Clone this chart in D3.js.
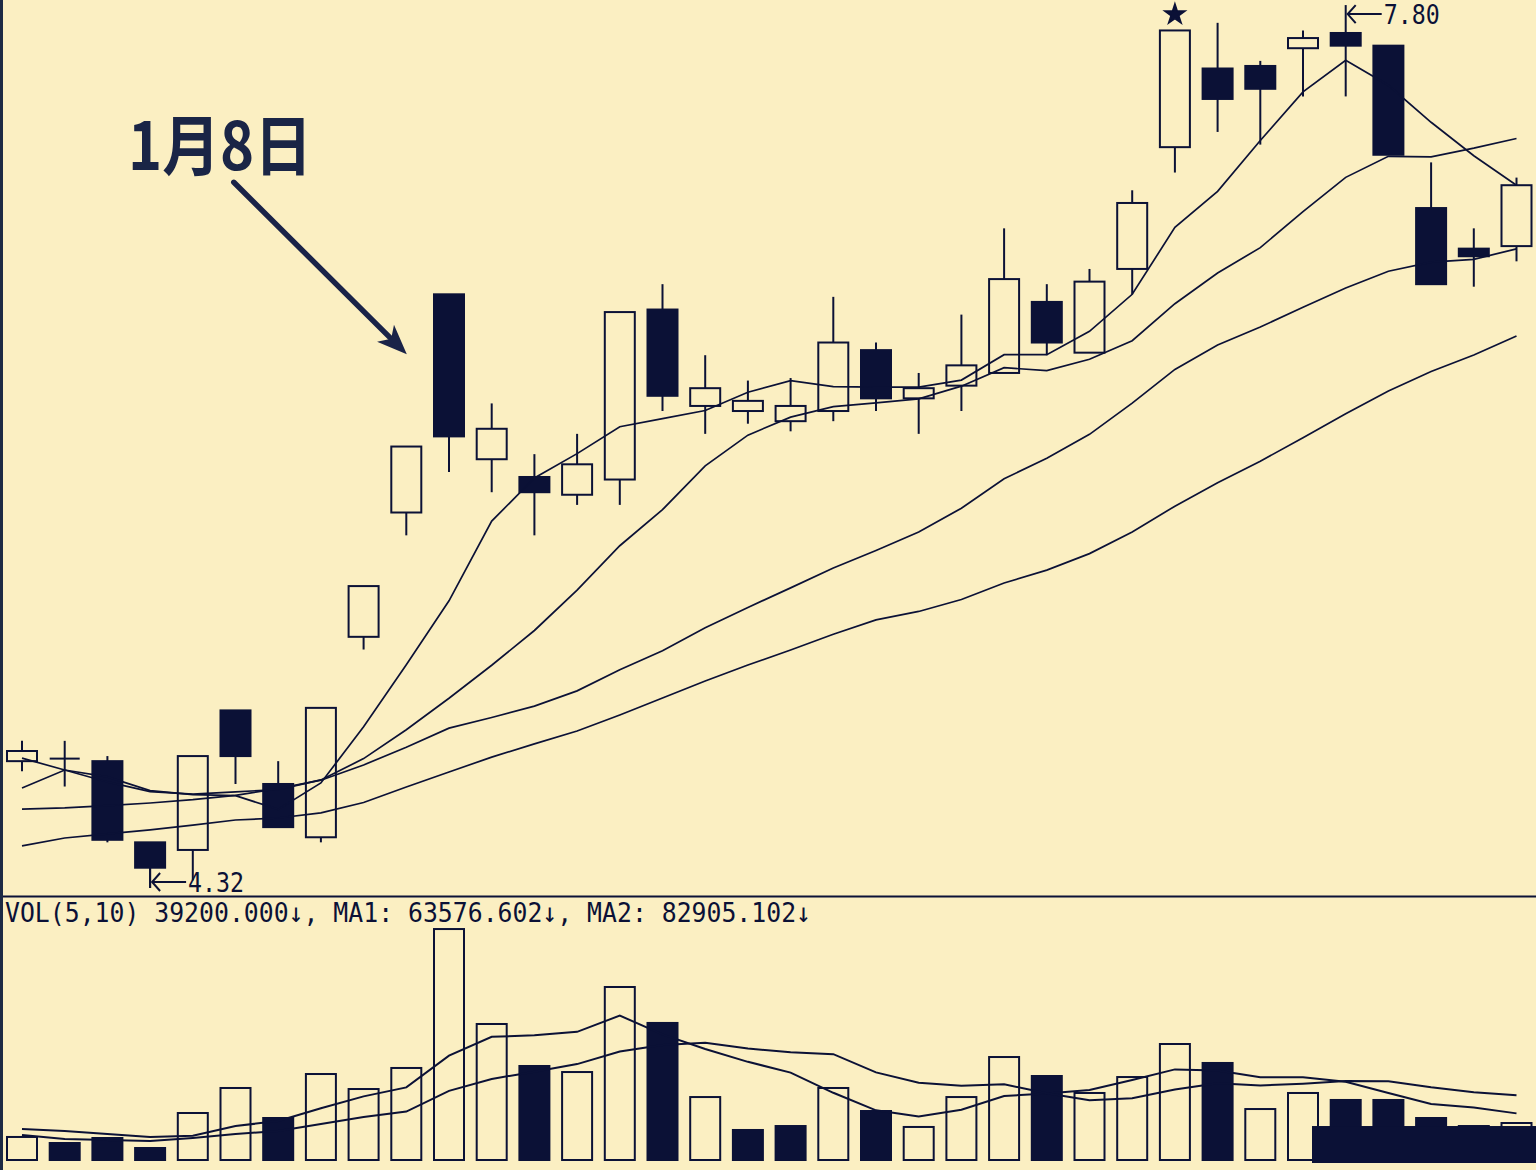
<!DOCTYPE html>
<html><head><meta charset="utf-8">
<script src="https://cdn.jsdelivr.net/npm/d3@7"></script>
<style>html,body{margin:0;padding:0;background:#fbefc2;} svg{display:block}</style>
</head><body>
<svg id="chart" width="1536" height="1170"></svg>
<script>
// ---- data ----
const days  = [1,2,3,4,5,6,7,8,9,10,11,12,13,14,15,16,17,18,19,20,21,22,23,24,25,26,27,28,29,30,31,32,33,34,35,36];
const open  = [4.82,4.83,4.82,4.50,4.47,5.02,4.73,4.52,5.31,5.80,6.66,6.01,5.94,5.87,5.93,6.60,6.22,6.20,6.16,6.20,6.44,6.25,6.30,6.35,6.63,6.43,6.76,7.24,7.55,7.56,7.63,7.69,7.64,7.00,6.84,6.85];
const high  = [4.90,4.90,4.84,4.50,4.84,5.02,4.82,5.03,5.51,6.06,6.66,6.23,6.03,6.11,6.59,6.70,6.42,6.32,6.33,6.65,6.47,6.35,6.58,6.92,6.70,6.76,7.07,7.70,7.73,7.58,7.70,7.80,7.64,7.18,6.92,7.12];
const low   = [4.78,4.72,4.50,4.32,4.35,4.73,4.56,4.50,5.26,5.71,5.96,5.88,5.71,5.83,5.83,6.20,6.11,6.15,6.12,6.16,6.20,6.11,6.20,6.35,6.42,6.43,6.66,7.14,7.30,7.25,7.44,7.44,7.21,6.70,6.69,6.79];
const close = [4.86,4.83,4.51,4.40,4.84,4.84,4.56,5.03,5.51,6.06,6.10,6.13,5.88,5.99,6.59,6.26,6.29,6.24,6.22,6.47,6.25,6.29,6.38,6.72,6.47,6.71,7.02,7.70,7.43,7.47,7.67,7.64,7.21,6.70,6.81,7.09];

const ma5  = [4.714,4.785,4.758,4.704,4.688,4.684,4.630,4.734,4.956,5.200,5.452,5.766,5.936,6.032,6.138,6.170,6.202,6.274,6.320,6.296,6.294,6.294,6.322,6.422,6.422,6.514,6.660,6.924,7.066,7.266,7.458,7.582,7.484,7.338,7.206,7.090];
const ma10 = [4.832,4.785,4.738,4.700,4.690,4.699,4.708,4.746,4.830,4.944,5.068,5.198,5.335,5.494,5.669,5.811,5.984,6.105,6.176,6.217,6.232,6.248,6.298,6.371,6.359,6.404,6.477,6.623,6.744,6.844,6.986,7.121,7.204,7.202,7.236,7.274];
const ma20 = [4.631,4.636,4.645,4.655,4.668,4.685,4.712,4.745,4.805,4.875,4.950,4.992,5.037,5.097,5.180,5.255,5.346,5.426,5.503,5.581,5.650,5.723,5.817,5.933,6.014,6.108,6.231,6.364,6.460,6.531,6.609,6.685,6.751,6.787,6.798,6.839];
const ma30 = [4.486,4.517,4.533,4.549,4.568,4.588,4.596,4.616,4.657,4.718,4.777,4.836,4.888,4.939,5.002,5.069,5.136,5.199,5.258,5.320,5.377,5.410,5.457,5.522,5.573,5.638,5.723,5.825,5.917,6.002,6.095,6.189,6.279,6.356,6.421,6.496];

const volume = [24400,18000,23300,12700,49800,76300,44500,91100,75200,97500,244700,144100,99600,93200,183300,145200,66700,31800,36000,76300,51900,35000,66700,109100,89000,71000,87900,122900,102800,54000,71000,63600,63600,44500,36000,39200];
const volUp  = [1,0,0,0,1,1,0,1,1,1,1,1,0,1,1,0,1,0,0,1,0,1,1,1,0,1,1,1,0,1,1,0,0,0,1,1];
const volMa5  = [32800,30700,27500,24400,25600,36000,41300,54900,67400,76900,110600,130500,132200,135800,153000,133100,117600,104000,92600,71200,52600,46200,53200,67800,70400,74200,84800,96000,94700,87700,87700,82900,71000,59300,55700,49400];
const volMa10 = [26500,22200,21200,20100,23300,27500,30700,38100,45600,51300,73300,85900,93600,101600,115000,121800,124100,118100,114200,112100,92800,81900,78600,80200,70800,63400,65500,74600,81300,79000,80900,83800,83500,77000,71700,68500];

const volHeader = "VOL(5,10) 39200.000\u2193, MA1: 63576.602\u2193, MA2: 82905.102\u2193";
const annotationText = "1月8日";
const annotatedDay = 11;
const lowDay = 4, lowLabel = "4.32";
const highDay = 32, highLabel = "7.80";
const starDay = 28;
const overlayStartDay = 31, overlayLevel = 36000;

// ---- setup ----
const W = 1536, H = 1170;
const ink = "#0b1136";
const bg = "#fbefc2";
const svg = d3.select("#chart");
svg.append("rect").attr("width", W).attr("height", H).attr("fill", bg);

const x = d3.scalePoint().domain(days).range([22, 1516.5]);
const step = x.step();
const bodyW = 30;
const y = d3.scaleLinear().domain([4.2885, 7.820]).range([896, 0]);
const yv = d3.scaleLinear().domain([0, 250000]).range([1160, 924.04]);

const gPrice = svg.append("g");
const gVol = svg.append("g");

// ---- candles ----
days.forEach((d, i) => {
  const cx = x(d), o = open[i], c = close[i], h = high[i], l = low[i];
  const top = y(Math.max(o, c)), bot = y(Math.min(o, c));
  if (c > o) {
    if (y(h) < top) gPrice.append("line").attr("x1", cx).attr("x2", cx).attr("y1", y(h)).attr("y2", top).attr("stroke", ink).attr("stroke-width", 2);
    if (y(l) > bot) gPrice.append("line").attr("x1", cx).attr("x2", cx).attr("y1", bot).attr("y2", y(l)).attr("stroke", ink).attr("stroke-width", 2);
    gPrice.append("rect").attr("x", cx - bodyW / 2).attr("y", top).attr("width", bodyW).attr("height", bot - top)
      .attr("fill", "none").attr("stroke", ink).attr("stroke-width", 2);
  } else if (c < o) {
    gPrice.append("line").attr("x1", cx).attr("x2", cx).attr("y1", y(h)).attr("y2", y(l)).attr("stroke", ink).attr("stroke-width", 2);
    gPrice.append("rect").attr("x", cx - bodyW / 2 - 1).attr("y", top - 1).attr("width", bodyW + 2).attr("height", Math.max(2, bot - top + 2))
      .attr("fill", ink);
  } else {
    gPrice.append("line").attr("x1", cx).attr("x2", cx).attr("y1", y(h)).attr("y2", y(l)).attr("stroke", ink).attr("stroke-width", 2);
    gPrice.append("line").attr("x1", cx - bodyW / 2).attr("x2", cx + bodyW / 2).attr("y1", top).attr("y2", top).attr("stroke", ink).attr("stroke-width", 2);
  }
});

// ---- moving averages ----
const line = d3.line().x((d, i) => x(days[i])).y(d => y(d));
[ma5, ma10, ma20, ma30].forEach(s => {
  gPrice.append("path").attr("d", line(s)).attr("fill", "none").attr("stroke", ink).attr("stroke-width", 1.7);
});

// ---- star marker above the highest hollow candle ----
gPrice.append("path")
  .attr("d", d3.symbol(d3.symbolStar, 130)())
  .attr("transform", `translate(${x(starDay)},${y(high[starDay - 1]) - 16})`)
  .attr("fill", ink).attr("stroke", ink).attr("stroke-width", 1.5);

// ---- low / high labels ----
function markLabel(day, price, text, dy, tx, tw) {
  const cx = x(day), yy = y(price) + dy;
  const g = gPrice.append("g");
  g.append("path").attr("d", `M${cx + 2},${yy} L${cx + tx - 2},${yy}`).attr("stroke", ink).attr("stroke-width", 2).attr("fill", "none");
  g.append("path").attr("d", `M${cx + 10},${yy - 9} L${cx + 2},${yy} L${cx + 10},${yy + 9}`).attr("stroke", ink).attr("stroke-width", 2).attr("fill", "none");
  g.append("text").attr("x", cx + tx).attr("y", yy + 10).attr("font-family", "DejaVu Sans Mono")
    .attr("font-size", 27).attr("fill", ink).attr("textLength", tw).attr("lengthAdjust", "spacingAndGlyphs").text(text);
}
markLabel(lowDay, low[lowDay - 1], lowLabel, -6, 38, 56);
gPrice.append("line").attr("x1", x(lowDay)).attr("x2", x(lowDay)).attr("y1", y(low[lowDay - 1]) - 20).attr("y2", y(low[lowDay - 1])).attr("stroke", ink).attr("stroke-width", 2);
markLabel(highDay, high[highDay - 1], highLabel, 9, 38, 56);

// ---- annotation ----
{
  const tipX = x(annotatedDay) - step + 0.5, tipY = y(high[annotatedDay - 1]) + 60;
  const sx = tipX - 173, sy = tipY - 172;
  const len = Math.hypot(tipX - sx, tipY - sy), ux = (tipX - sx) / len, uy = (tipY - sy) / len;
  const nx = -uy, ny = ux, hl = 30, hw = 12;
  const bx = tipX - hl * ux, by = tipY - hl * uy;
  gPrice.append("line").attr("x1", sx).attr("y1", sy).attr("x2", bx + 6 * ux).attr("y2", by + 6 * uy)
    .attr("stroke", "#1a2348").attr("stroke-width", 5.5).attr("stroke-linecap", "round");
  gPrice.append("path").attr("d", `M${tipX},${tipY} L${bx + hw * nx},${by + hw * ny} L${bx + 8 * ux},${by + 8 * uy} L${bx - hw * nx},${by - hw * ny} Z`)
    .attr("fill", "#1a2348");
  gPrice.append("text").attr("x", 128).attr("y", 170).attr("font-family", "Noto Sans CJK SC").attr("font-weight", 700)
    .attr("font-size", 66).attr("fill", "#1a2546").attr("textLength", 184).attr("lengthAdjust", "spacingAndGlyphs").text(annotationText);
}

// ---- separator & border ----
svg.append("line").attr("x1", 0).attr("x2", W).attr("y1", 896.5).attr("y2", 896.5).attr("stroke", ink).attr("stroke-width", 2);
svg.append("rect").attr("x", 0).attr("y", 0).attr("width", 3).attr("height", H).attr("fill", "#1d2a44");

// ---- volume ----
svg.append("text").attr("x", 5).attr("y", 922).attr("font-family", "DejaVu Sans Mono").attr("font-size", 27).attr("fill", ink)
  .attr("textLength", 806).attr("lengthAdjust", "spacingAndGlyphs").text(volHeader);

days.forEach((d, i) => {
  const cx = x(d), t = yv(volume[i]), b = yv(0);
  if (volUp[i]) {
    gVol.append("rect").attr("x", cx - bodyW / 2).attr("y", t).attr("width", bodyW).attr("height", b - t)
      .attr("fill", "none").attr("stroke", ink).attr("stroke-width", 2);
  } else {
    gVol.append("rect").attr("x", cx - bodyW / 2 - 1).attr("y", t - 1).attr("width", bodyW + 2).attr("height", b - t + 2).attr("fill", ink);
  }
});
gVol.append("rect").attr("x", x(overlayStartDay) + 9).attr("y", yv(overlayLevel)).attr("width", W - x(overlayStartDay) - 9)
  .attr("height", yv(0) + 3 - yv(overlayLevel)).attr("fill", ink);

const vline = d3.line().x((d, i) => x(days[i])).y(d => yv(d));
[volMa5, volMa10].forEach(s => {
  gVol.append("path").attr("d", vline(s)).attr("fill", "none").attr("stroke", ink).attr("stroke-width", 2);
});
</script>
</body></html>
